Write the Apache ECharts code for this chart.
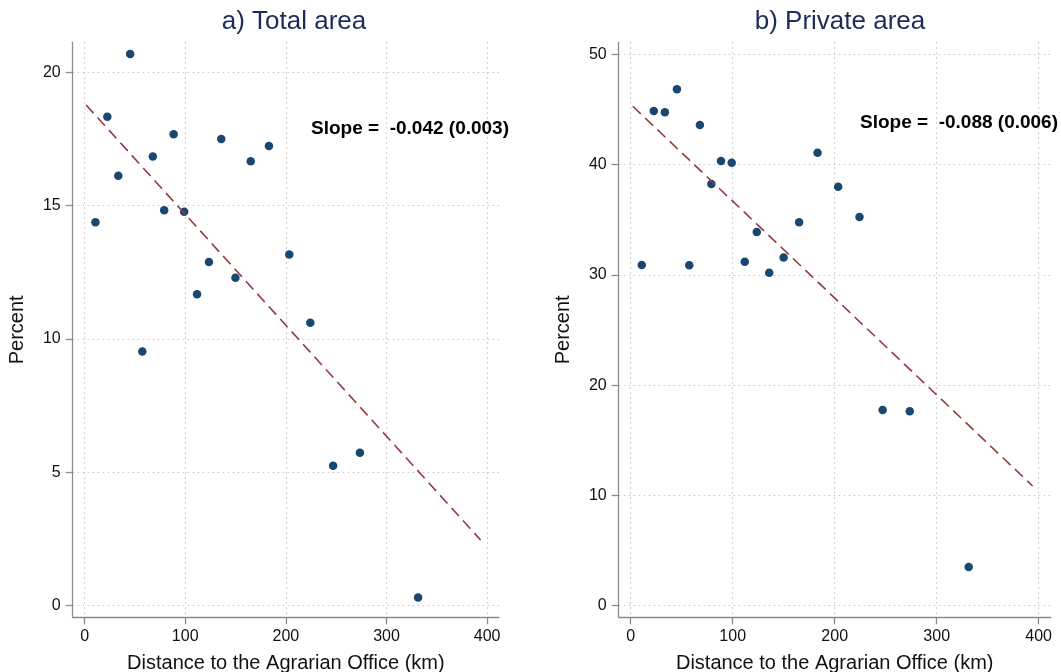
<!DOCTYPE html>
<html>
<head>
<meta charset="utf-8">
<script src="https://cdn.jsdelivr.net/npm/echarts@6/dist/echarts.min.js"></script>
<style>
  html, body { margin: 0; padding: 0; background: #fff; }
  #main { width: 1061px; height: 672px; }
</style>
</head>
<body>
<div id="main"></div>
<script>
// distance to the agrarian office (km), one per district
var distance = [10.8, 22.6, 33.5, 45.3, 57.4, 67.8, 79.1, 88.5, 99.0, 111.8,
                123.6, 135.8, 149.9, 165.1, 183.2, 203.4, 224.3, 247.0, 273.6, 331.4];
// a) total area, percent
var totalArea = [14.37, 18.33, 16.12, 20.68, 9.53, 16.84, 14.82, 17.67, 14.77, 11.67,
                 12.88, 17.49, 12.29, 16.66, 17.23, 13.16, 10.60, 5.24, 5.73, 0.30];
// b) private area, percent
var privateArea = [30.89, 44.85, 44.73, 46.82, 30.86, 43.58, 38.23, 40.32, 40.16, 31.19,
                   33.88, 30.19, 31.58, 34.76, 41.07, 37.99, 35.24, 17.74, 17.62, 3.51];
// fitted lines (end points)
var fitTotal = [[1.5, 18.77], [393.5, 2.46]];
var fitPrivate = [[2.0, 45.28], [394.1, 10.85]];
// tick labels
var xTicks = [0, 100, 200, 300, 400];
var yTicksTotal = [0, 5, 10, 15, 20];
var yTicksPrivate = [0, 10, 20, 30, 40, 50];

var myChart = echarts.init(document.getElementById('main'));

var font = 'Liberation Sans, Arial, sans-serif';
var axisGray = '#8c8c8c';
var gridLine = { show: true, lineStyle: { color: '#c4c4c4', type: [1.5, 3.5], width: 1.2 } };

function makeX(gridIndex) {
    return {
        type: 'value', gridIndex: gridIndex,
        min: -11.8, max: 411.8,
        name: 'Distance to the Agrarian Office (km)',
        nameLocation: 'middle', nameGap: 36,
        nameTextStyle: { fontFamily: font, fontSize: 20, color: '#111' },
        axisLine: { show: true, onZero: false, lineStyle: { color: axisGray, width: 1.3 } },
        axisTick: { show: true, inside: false, length: 7, customValues: xTicks, lineStyle: { color: axisGray, width: 1.3 } },
        axisLabel: { customValues: xTicks, margin: 11, fontFamily: font, fontSize: 16, color: '#111' },
        splitLine: gridLine
    };
}

function makeY(gridIndex, min, max, ticks) {
    return {
        type: 'value', gridIndex: gridIndex,
        min: min, max: max,
        name: 'Percent',
        nameLocation: 'middle', nameGap: 45,
        nameTextStyle: { fontFamily: font, fontSize: 20, color: '#111' },
        axisLine: { show: true, onZero: false, lineStyle: { color: axisGray, width: 1.3 } },
        axisTick: { show: true, inside: false, length: 7, customValues: ticks, lineStyle: { color: axisGray, width: 1.3 } },
        axisLabel: { customValues: ticks, margin: 12, fontFamily: font, fontSize: 16, color: '#111' },
        splitLine: gridLine
    };
}

function pairs(xs, ys) {
    return xs.map(function (x, i) { return [x, ys[i]]; });
}

var option = {
    backgroundColor: '#fff',
    animation: false,
    title: [
        { text: 'a) Total area', left: 289, top: 4, textAlign: 'center',
          textStyle: { fontFamily: font, fontSize: 26, fontWeight: 'normal', color: '#1e2b5a' } },
        { text: 'b) Private area', left: 835, top: 4, textAlign: 'center',
          textStyle: { fontFamily: font, fontSize: 26, fontWeight: 'normal', color: '#1e2b5a' } },
        { text: 'Slope =  -0.042 (0.003)', left: 306, top: 114,
          textStyle: { fontFamily: font, fontSize: 19, fontWeight: 'bold', color: '#000' } },
        { text: 'Slope =  -0.088 (0.006)', left: 855, top: 108,
          textStyle: { fontFamily: font, fontSize: 19, fontWeight: 'bold', color: '#000' } }
    ],
    grid: [
        { left: 72.7, top: 42.3, width: 426.3, height: 575, outerBoundsMode: 'none' },
        { left: 618.7, top: 42.3, width: 432, height: 575, outerBoundsMode: 'none' }
    ],
    xAxis: [makeX(0), makeX(1)],
    yAxis: [
        makeY(0, -0.44, 21.12, yTicksTotal),
        makeY(1, -1.05, 51.08, yTicksPrivate)
    ],
    series: [
        { type: 'line', xAxisIndex: 0, yAxisIndex: 0, data: fitTotal, showSymbol: false,
          lineStyle: { color: '#983840', width: 1.6, type: [11, 6] } },
        { type: 'scatter', xAxisIndex: 0, yAxisIndex: 0, data: pairs(distance, totalArea),
          symbolSize: 8.5, itemStyle: { color: '#1a476f', opacity: 1 } },
        { type: 'line', xAxisIndex: 1, yAxisIndex: 1, data: fitPrivate, showSymbol: false,
          lineStyle: { color: '#983840', width: 1.6, type: [11, 6] } },
        { type: 'scatter', xAxisIndex: 1, yAxisIndex: 1, data: pairs(distance, privateArea),
          symbolSize: 8.5, itemStyle: { color: '#1a476f', opacity: 1 } }
    ]
};

myChart.setOption(option);
</script>
</body>
</html>
